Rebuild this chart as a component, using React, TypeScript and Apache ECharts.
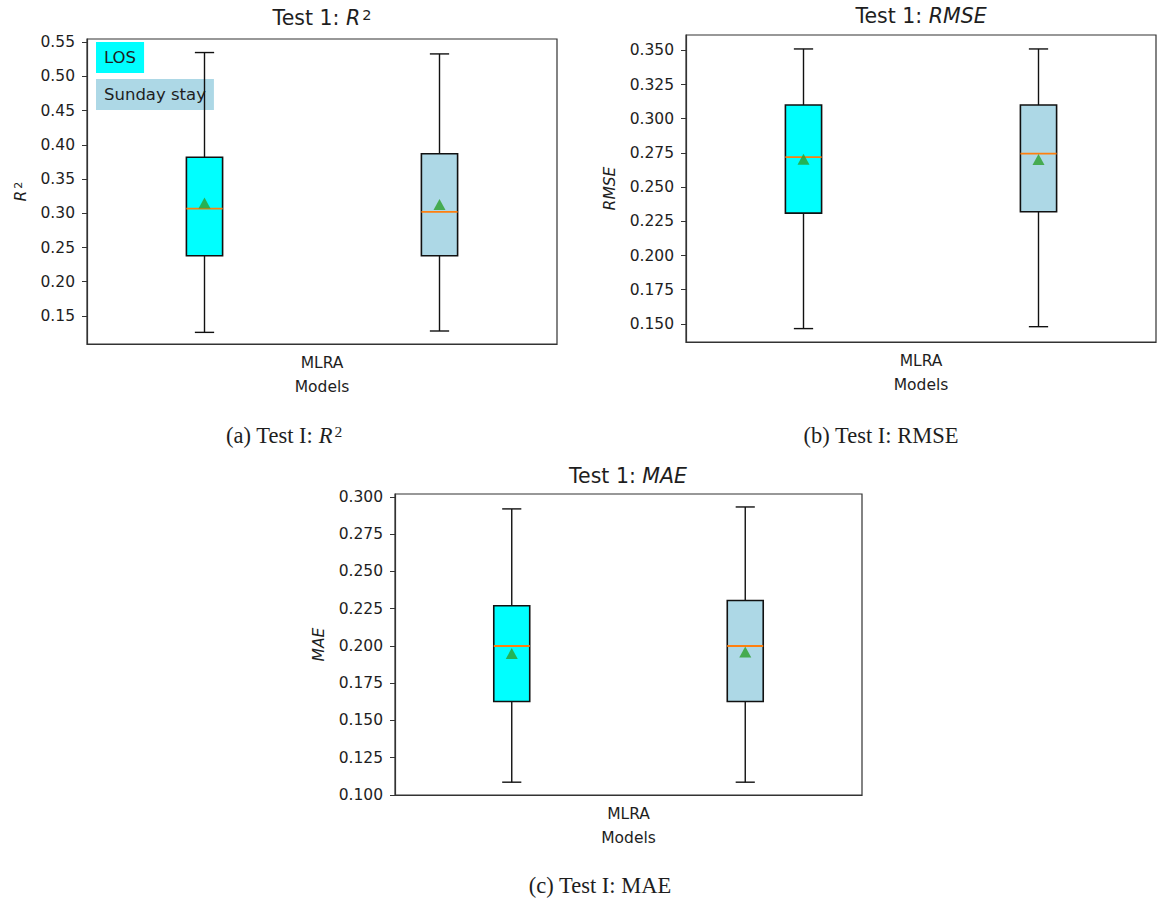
import React, { useEffect, useRef } from 'react';
import * as echarts from 'echarts';

// Groups compared inside every panel, and the single model on the x axis
const groups = ['LOS', 'Sunday stay'];
const modelLabels = ['MLRA'];

// Five-number summaries per group: [lower whisker, Q1, median, Q3, upper whisker]
const r2Stats = [
  [0.126, 0.238, 0.307, 0.382, 0.535],
  [0.128, 0.238, 0.302, 0.387, 0.533],
];
const r2Means = [0.315, 0.313];

const rmseStats = [
  [0.1466, 0.231, 0.272, 0.31, 0.351],
  [0.148, 0.232, 0.2745, 0.31, 0.351],
];
const rmseMeans = [0.2703, 0.2702];

const maeStats = [
  [0.1086, 0.1627, 0.2, 0.227, 0.292],
  [0.1086, 0.1627, 0.2, 0.2305, 0.2933],
];
const maeMeans = [0.195, 0.196];

// Tick labels on the value axes
const r2Ticks = [0.15, 0.2, 0.25, 0.3, 0.35, 0.4, 0.45, 0.5, 0.55];
const rmseTicks = [0.15, 0.175, 0.2, 0.225, 0.25, 0.275, 0.3, 0.325, 0.35];
const maeTicks = [0.1, 0.125, 0.15, 0.175, 0.2, 0.225, 0.25, 0.275, 0.3];

const BOX_COLORS = ['#00ffff', '#add8e6'];
const SANS = "'DejaVu Sans', sans-serif";
const SERIF = "'Liberation Serif', 'Times New Roman', serif";
const INK = '#1e1e1e';
const SPINE = '#333333';

const supRich = (size: number, supSize: number, family: string) => ({
  i: { fontStyle: 'italic', fontSize: size, fontFamily: family, color: INK },
  s: { fontSize: supSize, fontFamily: family, color: INK, verticalAlign: 'top', padding: [0, 0, 0, 2] },
});

const panels = [
  {
    grid: { left: 87, top: 39, width: 470, height: 305 },
    min: 0.109, max: 0.5548, ticks: r2Ticks, digits: 2,
    stats: r2Stats, means: r2Means,
    yName: '{i|R}{s|2}', nameGap: 58,
  },
  {
    grid: { left: 686, top: 35, width: 470, height: 307 },
    min: 0.1368, max: 0.3612, ticks: rmseTicks, digits: 3,
    stats: rmseStats, means: rmseMeans,
    yName: '{i|RMSE}', nameGap: 68,
  },
  {
    grid: { left: 395, top: 494, width: 467, height: 301 },
    min: 0.1, max: 0.302, ticks: maeTicks, digits: 3,
    stats: maeStats, means: maeMeans,
    yName: '{i|MAE}', nameGap: 68,
  },
];

// Box, whiskers, caps and an orange median, all placed through the axis scales
const renderBox = (params: any, api: any) => {
  const idx = api.value(0);
  const pLow = api.coord([idx, api.value(1)]);
  const pQ1 = api.coord([idx, api.value(2)]);
  const pMed = api.coord([idx, api.value(3)]);
  const pQ3 = api.coord([idx, api.value(4)]);
  const pHigh = api.coord([idx, api.value(5)]);
  const band = api.size([1, 0])[0];
  const half = band * 0.077;
  const cap = band * 0.041;
  const cx = pLow[0];
  const line = { stroke: '#111', lineWidth: 1.4 };
  return {
    type: 'group',
    children: [
      { type: 'line', shape: { x1: cx, y1: pLow[1], x2: cx, y2: pQ1[1] }, style: line },
      { type: 'line', shape: { x1: cx, y1: pQ3[1], x2: cx, y2: pHigh[1] }, style: line },
      { type: 'line', shape: { x1: cx - cap, y1: pLow[1], x2: cx + cap, y2: pLow[1] }, style: line },
      { type: 'line', shape: { x1: cx - cap, y1: pHigh[1], x2: cx + cap, y2: pHigh[1] }, style: line },
      {
        type: 'rect',
        shape: { x: cx - half, y: pQ3[1], width: 2 * half, height: pQ1[1] - pQ3[1] },
        style: { fill: BOX_COLORS[params.dataIndex], stroke: '#111', lineWidth: 1.6 },
      },
      {
        type: 'line',
        shape: { x1: cx - half, y1: pMed[1], x2: cx + half, y2: pMed[1] },
        style: { stroke: '#ff7f0e', lineWidth: 1.8 },
      },
    ],
  };
};

const textEl = (x: number, y: number, text: string, size: number, family: string, rich?: any) => ({
  type: 'text',
  x,
  y,
  style: {
    text,
    fontSize: size,
    fontFamily: family,
    fill: INK,
    align: 'center',
    verticalAlign: 'middle',
    textAlign: 'center',
    textVerticalAlign: 'middle',
    rich,
  },
});

function buildOption() {
  const grid: any[] = [];
  const xAxis: any[] = [];
  const yAxis: any[] = [];
  const series: any[] = [];

  panels.forEach((p, k) => {
    grid.push({ ...p.grid, show: true, borderColor: SPINE, borderWidth: 1.2, backgroundColor: 'transparent' });
    xAxis.push({
      gridIndex: k, type: 'category', data: groups, position: 'top', show: false, boundaryGap: true,
    });
    xAxis.push({
      gridIndex: k, type: 'category', data: modelLabels, position: 'bottom',
      axisLine: { lineStyle: { color: SPINE, width: 1.2 } },
      axisTick: { alignWithLabel: true, length: 5, lineStyle: { color: SPINE, width: 1 } },
      axisLabel: { margin: 11, fontSize: 15.5, fontFamily: SANS, color: INK },
      splitLine: { show: false },
      name: 'Models', nameLocation: 'middle', nameGap: 35,
      nameTextStyle: { fontSize: 15.5, fontFamily: SANS, color: INK },
    });
    yAxis.push({
      gridIndex: k, type: 'value', min: p.min, max: p.max,
      axisLine: { show: true, lineStyle: { color: SPINE, width: 1.2 } },
      axisTick: { show: true, length: 5, customValues: p.ticks, lineStyle: { color: SPINE, width: 1 } },
      axisLabel: {
        customValues: p.ticks, margin: 12, fontSize: 15.5, fontFamily: SANS, color: INK,
        formatter: (v: number) => v.toFixed(p.digits),
      },
      splitLine: { show: false },
      name: p.yName, nameLocation: 'middle', nameRotate: 90, nameGap: p.nameGap,
      nameTextStyle: { fontSize: 15.5, fontFamily: SANS, color: INK, rich: supRich(15.5, 11, SANS) },
    });
    series.push({
      type: 'custom', name: `box-${k}`, xAxisIndex: 2 * k, yAxisIndex: k,
      renderItem: renderBox,
      encode: { x: 0, y: [1, 2, 3, 4, 5] },
      data: p.stats.map((s, i) => [i, ...s]),
      z: 2,
    });
    series.push({
      type: 'scatter', name: `mean-${k}`, xAxisIndex: 2 * k, yAxisIndex: k,
      symbol: 'triangle', symbolSize: [12, 11],
      itemStyle: { color: '#2ca02c' },
      data: p.means.map((m, i) => [i, m]),
      z: 3,
    });
  });

  const titleRich = supRich(20.5, 14.5, SANS);
  const capRich = supRich(22.5, 15.5, SERIF);

  const graphic = [
    textEl(322, 18, 'Test 1: {i|R}{s|2}', 20.5, SANS, titleRich),
    textEl(921, 16, 'Test 1: {i|RMSE}', 20.5, SANS, titleRich),
    textEl(628, 476, 'Test 1: {i|MAE}', 20.5, SANS, titleRich),
    textEl(284, 435, '(a) Test I: {i|R}{s|2}', 22.5, SERIF, capRich),
    textEl(881, 435, '(b) Test I: RMSE', 22.5, SERIF, capRich),
    textEl(600, 885, '(c) Test I: MAE', 22.5, SERIF, capRich),
    {
      type: 'text', x: 96, y: 42,
      style: {
        text: groups[0], fontSize: 16.5, fontFamily: SANS, fill: INK,
        backgroundColor: BOX_COLORS[0], padding: [7, 8, 7, 8],
      },
    },
    {
      type: 'text', x: 96, y: 79,
      style: {
        text: groups[1], fontSize: 16.5, fontFamily: SANS, fill: INK,
        backgroundColor: BOX_COLORS[1], padding: [7, 8, 7, 8],
      },
    },
  ];

  return { animation: false, backgroundColor: '#ffffff', grid, xAxis, yAxis, series, graphic };
}

export default function App() {
  const ref = useRef<HTMLDivElement>(null);
  useEffect(() => {
    if (!ref.current) return;
    const chart = echarts.init(ref.current, undefined, { renderer: 'svg' });
    chart.setOption(buildOption() as any);
    return () => chart.dispose();
  }, []);
  return (
    <div
      ref={ref}
      style={{ position: 'fixed', left: 0, top: 0, width: 1157, height: 902, background: '#fff' }}
    />
  );
}
